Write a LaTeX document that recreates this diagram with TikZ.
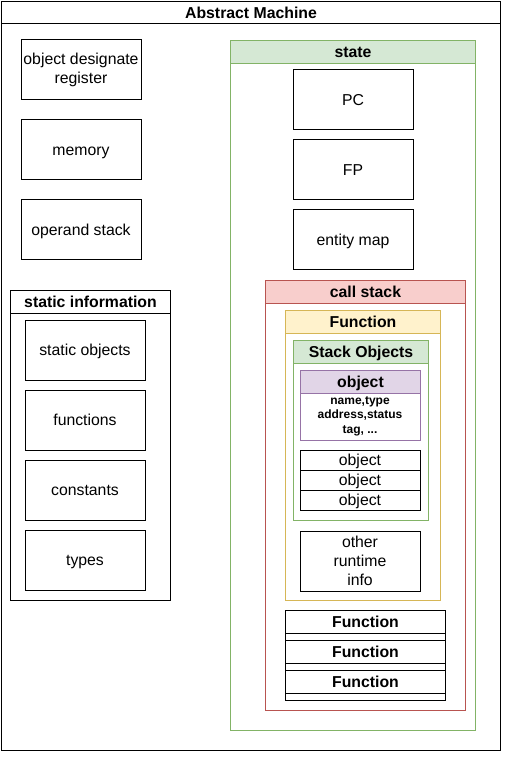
\documentclass[tikz,border=0pt]{standalone}
\usepackage{fontspec}
\setmainfont{Liberation Sans}
\usetikzlibrary{positioning}
\definecolor{stateFill}{HTML}{D5E8D4}
\definecolor{stateLine}{HTML}{82B366}
\definecolor{callFill}{HTML}{F8CECC}
\definecolor{callLine}{HTML}{B85450}
\definecolor{funcFill}{HTML}{FFF2CC}
\definecolor{funcLine}{HTML}{D6B656}
\definecolor{objFill}{HTML}{E1D5E7}
\definecolor{objLine}{HTML}{9673A6}

\tikzset{
  box/.style={draw, rectangle, line width=0.75pt, minimum width=90pt,
              minimum height=45pt, inner sep=0pt, align=center,
              font=\fontsize{11.85}{14.5}\selectfont},
  cell/.style={box, text height=8.5pt, text depth=0pt},
  row/.style={cell, minimum height=15pt},
  frame/.style={draw, rectangle, line width=0.75pt, inner sep=0pt,
                anchor=north west},
  title/.style={draw, rectangle, line width=0.75pt, inner sep=0pt,
                anchor=north, minimum height=17.25pt,
                text height=8.5pt, text depth=0pt,
                font=\fontsize{11.85}{14}\selectfont\bfseries},
}

\begin{document}
\begin{tikzpicture}[x=0.75pt, y=-0.75pt]
      \useasboundingbox (0,0) rectangle (516,762);

      % machine
      \node[frame, minimum width=374.25pt, minimum height=561.75pt] (machine) at (1,1) {};
      \node[title, minimum width=374.25pt, minimum height=16.5pt]
                        (machineTitle) at (machine.north) {Abstract Machine};

      \node[box]  (objReg)        at (81,70)                          {object designate\\register};
      \node[cell] (memory)        [below of=objReg, node distance=60pt]  {memory};
      \node[cell] (operandStack)  [below of=memory, node distance=60pt]  {operand stack};

      % static information
      \node[frame, minimum width=120pt, minimum height=232.5pt] (staticInfo) at (10,290) {};
      \node[title, minimum width=120pt] (staticTitle) at (staticInfo.north) {static information};
      \node[cell] (staticObjects) at (85,350)                             {static objects};
      \node[cell] (functions)     [below of=staticObjects, node distance=52.5pt] {functions};
      \node[cell] (constants)     [below of=functions, node distance=52.5pt]     {constants};
      \node[cell] (types)         [below of=constants, node distance=52.5pt]     {types};

      % state
      \node[frame, draw=stateLine, minimum width=183.75pt, minimum height=517.5pt] (state) at (230,40) {};
      \node[title, draw=stateLine, fill=stateFill, minimum width=183.75pt]
                        (stateTitle) at (state.north) {state};
      \node[cell] (pc)            at (353,100)                        {PC};
      \node[cell] (fp)            [below of=pc, node distance=52.5pt]    {FP};
      \node[cell] (entityMap)     [below of=fp, node distance=52.5pt]    {entity map};

      % call stack
      \node[frame, draw=callLine, minimum width=150pt, minimum height=322.5pt] (callStack) at (265,280) {};
      \node[title, draw=callLine, fill=callFill, minimum width=150pt]
                        (callTitle) at (callStack.north) {call stack};

      \node[frame, draw=funcLine, minimum width=116.25pt, minimum height=217.5pt] (func) at (285,310) {};
      \node[title, draw=funcLine, fill=funcFill, minimum width=116.25pt]
                        (funcTitle) at (func.north) {Function};

      \node[frame, draw=stateLine, minimum width=101.25pt, minimum height=135pt] (stackObjects) at (293,340) {};
      \node[title, draw=stateLine, fill=stateFill, minimum width=101.25pt]
                        (stackTitle) at (stackObjects.north) {Stack Objects};

      \node[frame, draw=objLine, minimum width=90pt, minimum height=52.5pt] (object) at (300,370) {};
      \node[title, draw=objLine, fill=objFill, minimum width=90pt]
                        (objectTitle) at (object.north) {object};
      \node[font=\fontsize{9}{10.9}\selectfont\bfseries, align=center]
                        (objectInfo) at (360,416) {name,type\\address,status\\tag, ...};

      \node[row]  (obj1)          at (360,460)                        {object};
      \node[row]  (obj2)          [below of=obj1, node distance=15pt]    {object};
      \node[row]  (obj3)          [below of=obj2, node distance=15pt]    {object};

      \node[box]  (runtimeInfo)   at (360,561)                        {other\\runtime\\info};

      % older frames
      \node[frame, minimum width=120pt, minimum height=22.5pt] (func2) at (285,610) {};
      \node[title, minimum width=120pt] (func2Title) at (func2.north) {Function};
      \node[frame, minimum width=120pt, minimum height=22.5pt] (func3) at (285,640) {};
      \node[title, minimum width=120pt] (func3Title) at (func3.north) {Function};
      \node[frame, minimum width=120pt, minimum height=22.5pt] (func4) at (285,670) {};
      \node[title, minimum width=120pt] (func4Title) at (func4.north) {Function};
\end{tikzpicture}
\end{document}
